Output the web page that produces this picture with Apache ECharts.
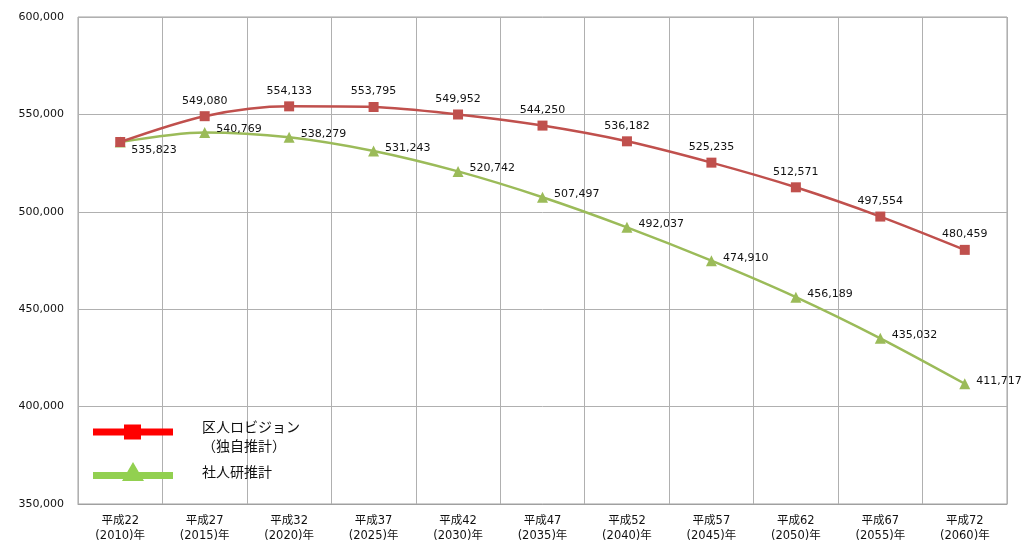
<!DOCTYPE html>
<html><head><meta charset="utf-8">
<script src="https://cdn.jsdelivr.net/npm/echarts@6/dist/echarts.min.js"></script>
<style>html,body{margin:0;padding:0;background:#fff}#c{width:1022px;height:541px}</style>
</head><body><div id="c"></div>
<script>
var categories = ['平成22\n(2010)年','平成27\n(2015)年','平成32\n(2020)年','平成37\n(2025)年','平成42\n(2030)年','平成47\n(2035)年','平成52\n(2040)年','平成57\n(2045)年','平成62\n(2050)年','平成67\n(2055)年','平成72\n(2060)年'];
var wardValues = [535823, 549080, 554133, 553795, 549952, 544250, 536182, 525235, 512571, 497554, 480459];
var ipssValues = [535823, 540769, 538279, 531243, 520742, 507497, 492037, 474910, 456189, 435032, 411717];
var seriesNames = ['区人ロビジョン\n（独自推計）', '社人研推計'];
var yMin = 350000, yMax = 600000, yInterval = 50000;

var font = '"DejaVu Sans","Noto Sans CJK JP",sans-serif';
var chart = echarts.init(document.getElementById('c'));
function fmt(v){ return v.toLocaleString('en-US'); }

var wardData = wardValues.map(function(v,i){
  var d = {value: v};
  if (i === 0) d.label = {position: 'right', distance: 6, offset: [0, 8]};
  return d;
});
var ipssData = ipssValues.map(function(v,i){
  var d = {value: v};
  if (i === 0) d.label = {show: false};
  return d;
});

function legendFmt(spacer){
  return function(name){
    return '{' + spacer + '| }\n' + name.split('\n').map(function(s){ return '{a|' + s + '}'; }).join('\n');
  };
}
var legendRich = {
  a: {fontFamily: font, fontSize: 14, color: '#111', lineHeight: 19, padding: [0,0,0,24]},
  s1: {fontSize: 8, lineHeight: 12},
  s2: {fontSize: 4, lineHeight: 4}
};

chart.setOption({
  animation: false,
  grid: {left: 78, right: 15, top: 17, bottom: 37, show: true, borderColor: '#a0a0a0', borderWidth: 1, outerBoundsMode: 'none', containLabel: false},
  legend: [
    {
      orient: 'vertical', left: 93, top: 409, padding: 0,
      itemWidth: 80, itemHeight: 15,
      formatter: legendFmt('s1'),
      textStyle: {fontFamily: font, fontSize: 14, color: '#111', rich: legendRich},
      data: [{name: seriesNames[0], icon: 'path://M0,4 H80 V11 H0 Z M31,0 H48 V15 H31 Z', itemStyle: {color: '#ff0000'}}]
    },
    {
      orient: 'vertical', left: 93, top: 460, padding: 0,
      itemWidth: 80, itemHeight: 19,
      formatter: legendFmt('s2'),
      textStyle: {fontFamily: font, fontSize: 14, color: '#111', rich: legendRich},
      data: [{name: seriesNames[1], icon: 'path://M0,10 H80 V17 H0 Z M40,0 L51,19 H29 Z', itemStyle: {color: '#92d050'}}]
    }
  ],
  xAxis: {
    type: 'category', data: categories, boundaryGap: true,
    axisLine: {lineStyle: {color: '#a0a0a0'}},
    axisTick: {show: false},
    splitLine: {show: true, lineStyle: {color: '#b0b0b0'}},
    axisLabel: {fontFamily: font, fontSize: 11.5, color: '#111', margin: 10, lineHeight: 15, interval: 0}
  },
  yAxis: {
    type: 'value', min: yMin, max: yMax, interval: yInterval,
    axisLine: {show: false}, axisTick: {show: false},
    splitLine: {lineStyle: {color: '#b0b0b0'}},
    axisLabel: {fontFamily: font, fontSize: 11, color: '#111', margin: 14, formatter: fmt}
  },
  series: [
    {
      name: seriesNames[1], type: 'line', data: ipssData, smooth: 0.3, z: 2,
      symbol: 'triangle', symbolSize: 11,
      lineStyle: {color: '#9bbb59', width: 2.5},
      itemStyle: {color: '#9bbb59'},
      label: {show: true, position: 'right', distance: 6, offset: [0, -3], fontFamily: font, fontSize: 11, color: '#111',
        formatter: function(p){ return fmt(p.value); }}
    },
    {
      name: seriesNames[0], type: 'line', data: wardData, smooth: 0.3, z: 3,
      symbol: 'rect', symbolSize: 10,
      lineStyle: {color: '#c0504d', width: 2.5},
      itemStyle: {color: '#c0504d'},
      label: {show: true, position: 'top', distance: 5, fontFamily: font, fontSize: 11, color: '#111',
        formatter: function(p){ return fmt(p.value); }}
    }
  ]
});
</script></body></html>
